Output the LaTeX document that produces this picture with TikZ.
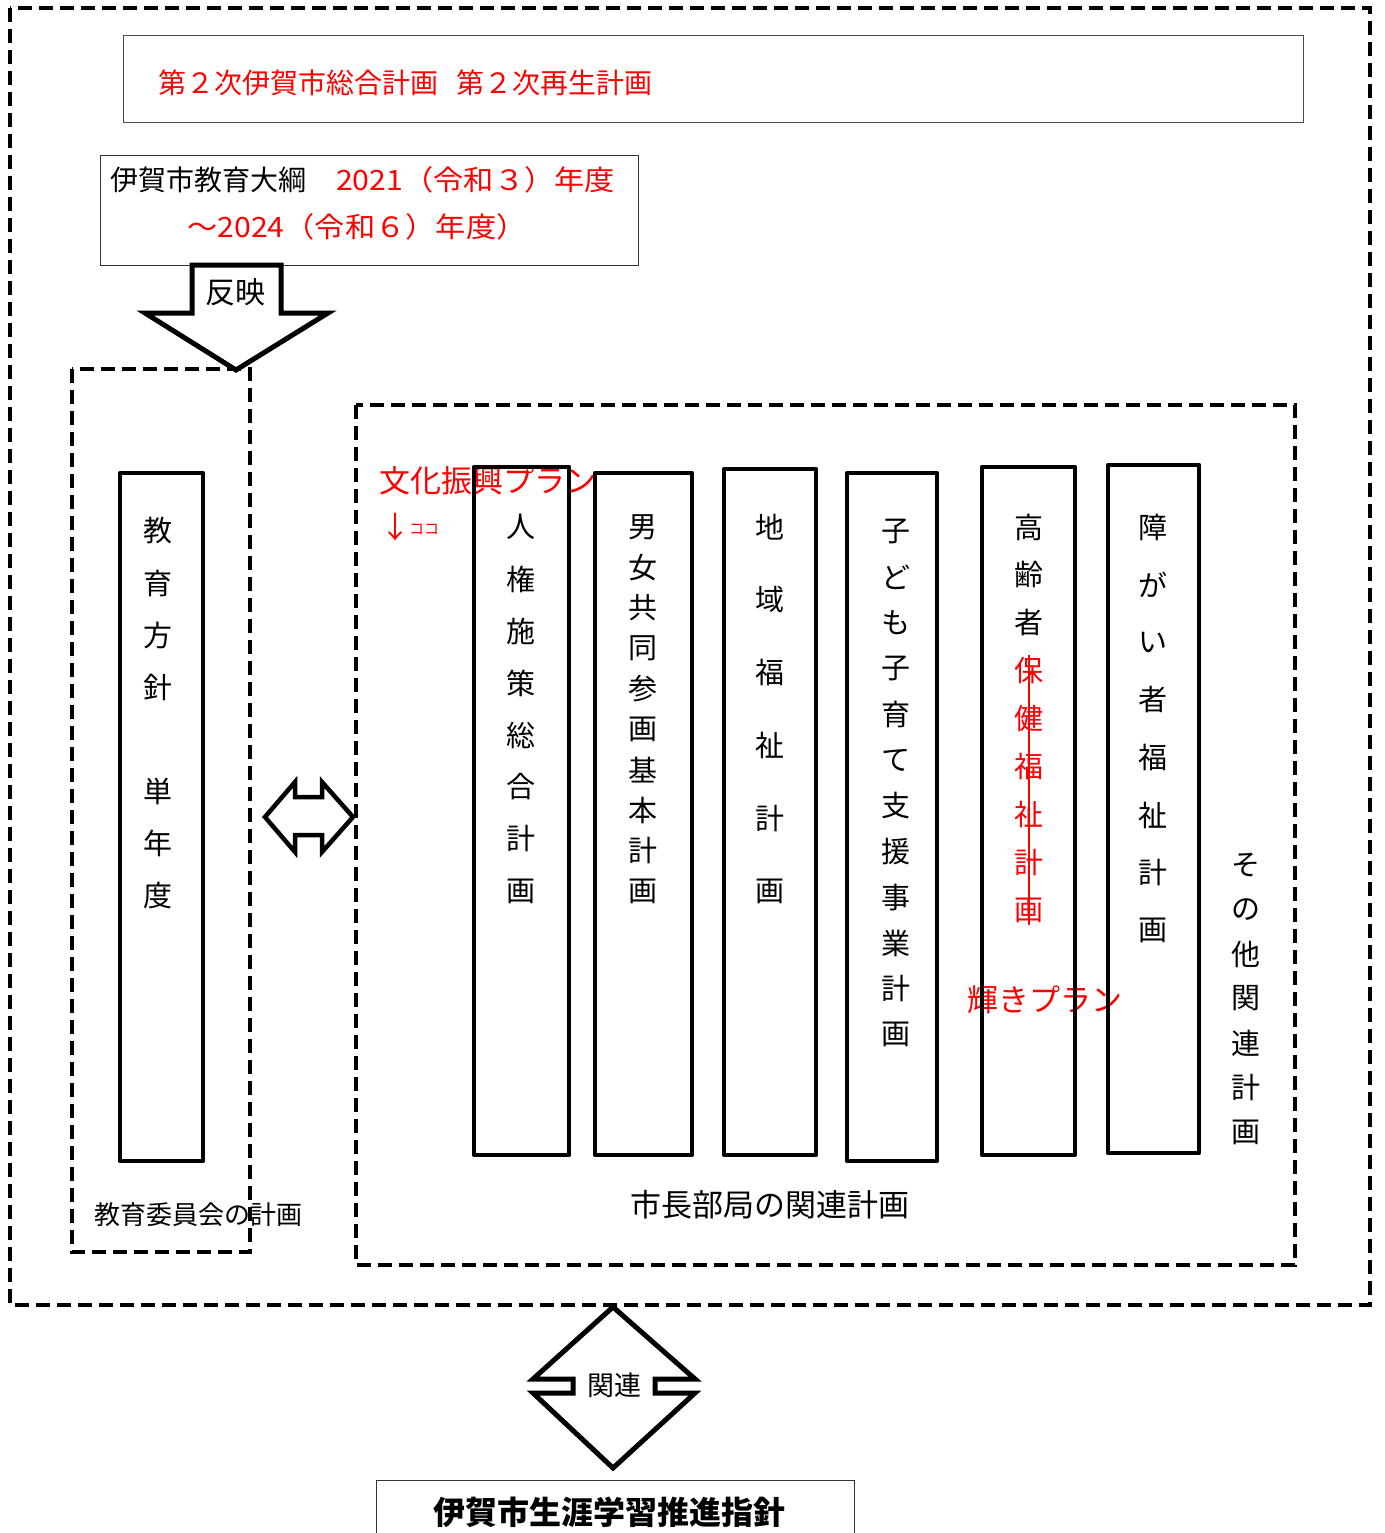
\documentclass[tikz,border=0pt]{standalone}
\usepackage{fontspec}
\setmainfont{Noto Sans CJK JP}
\newcommand\vtext[6]{\foreach \ch [count=\i] in {#5}{\node[vch,#6] (#1\i) at (#2,{#3+(\i-1)*#4}) {\ch};}}
\begin{document}
\begin{tikzpicture}[x=1pt,y=-1pt,
  fs/.style={font=\fontsize{#1}{#1}\selectfont, inner sep=0pt},
  vch/.style={font=\fontsize{29}{29}\selectfont, inner sep=0pt},
  outerdash/.style={line width=4.5pt, dash pattern=on 14pt off 7pt},
  colbox/.style={line width=4.5pt, line join=round},
  thinbox/.style={line width=0.9pt},
  bigarrow/.style={line width=5pt, line join=miter},
]
\useasboundingbox (0,0) rectangle (1384,1533);

% top boxes
\draw[thinbox, draw=black!70] (123,35) rectangle (1303,122);
\node[fs=28, anchor=west, text=red] (title) at (158,83) {第２次伊賀市総合計画\hspace{18pt}第２次再生計画};

\draw[thinbox, draw=black!80] (100,155) rectangle (638,265);
\node[fs=28, anchor=west] (taiko) at (110,180) {伊賀市教育大綱};
\node[fs=28, anchor=west, text=red] (taiko2) at (336,180) {\scalebox{1.08}[1]{2021（令和３）年度}};
\node[fs=28, text=red] (taiko3) at (357,227) {\scalebox{1.08}[1]{～2024（令和６）年度）}};

% arrow hanei
\draw[bigarrow] (192,265) -- (281,265) -- (281,313) -- (328,313) -- (236,370) -- (145,313) -- (192,313) -- cycle;
\node[fs=30] (hanei) at (235,292) {反映};

% red texts (under boxes)
\node[fs=31, anchor=west, text=red] (bunka) at (379,481) {文化振興プラン};
\node[fs=30, text=red] (arrowdown) at (395,527) {↓};
\node[fs=15, anchor=west, text=red] (koko) at (409,529) {ココ};
\node[fs=31, anchor=west, text=red] (kagayaki) at (967,1000) {輝きプラン};

% bottom labels
\node[fs=26, anchor=west] (kyoiku) at (94,1215) {教育委員会の計画};
\node[fs=31] (shicho) at (770,1205) {市長部局の関連計画};

% dashed frames
\draw[outerdash] (10,8) rectangle (1370,1305);
\draw[outerdash] (72,369) rectangle (250,1252);
\draw[outerdash] (356,405) rectangle (1295,1265);

% columns
\draw[colbox] (120,473) rectangle (203,1161);
\draw[colbox] (474,467) rectangle (569,1155);
\draw[colbox] (595,473) rectangle (692,1155);
\draw[colbox] (724,469) rectangle (816,1155);
\draw[colbox] (847,473) rectangle (937,1161);
\draw[colbox] (982,467) rectangle (1075,1155);
\draw[colbox] (1108,465) rectangle (1199,1153);

\vtext{ka}{158}{531}{52}{教,育,方,針}{}
\vtext{kb}{158}{791}{52}{単,年,度}{}
\vtext{c1}{521}{527}{52}{人,権,施,策,総,合,計,画}{}
\vtext{c2}{643}{527}{40.44}{男,女,共,同,参,画,基,本,計,画}{}
\vtext{c3}{770}{527}{72.8}{地,域,福,祉,計,画}{}
\vtext{c4}{896}{531}{45.8}{子,ど,も,子,育,て,支,援,事,業,計,画}{}
\vtext{c5}{1029}{527}{47.9}{高,齢,者}{}
\vtext{c6}{1029}{670.7}{47.9}{保,健,福,祉,計,画}{text=red}
\vtext{c7}{1153}{527}{57.6}{障,が,い,者,福,祉,計,画}{}
\vtext{c8}{1246}{865}{44.5}{そ,の,他,関,連,計,画}{}
\coordinate (st1) at (1029,655);
\coordinate (st2) at (1029,925);
\draw[red, line width=1.6pt] (st1) -- (st2);

% double arrow left-right
\draw[line width=4.5pt, line join=miter] (265,817) -- (295,782) -- (295,797) -- (322,797) -- (322,782) -- (353,817) -- (322,852) -- (322,835) -- (295,835) -- (295,852) -- cycle;

% bottom double arrow
\draw[bigarrow] (613,1307) -- (533,1379) -- (573,1379) -- (573,1393) -- (533,1393) -- (613,1468) -- (695,1393) -- (655,1393) -- (655,1379) -- (695,1379) -- cycle;
\node[fs=27] (kanren) at (614,1385) {関連};

% bottom box
\draw[thinbox, draw=black!80] (376,1545) -- (376,1480) -- (854,1480) -- (854,1545);
\node[fs=32] (shishin) at (609,1512) {\bfseries 伊賀市生涯学習推進指針};
\end{tikzpicture}
\end{document}
